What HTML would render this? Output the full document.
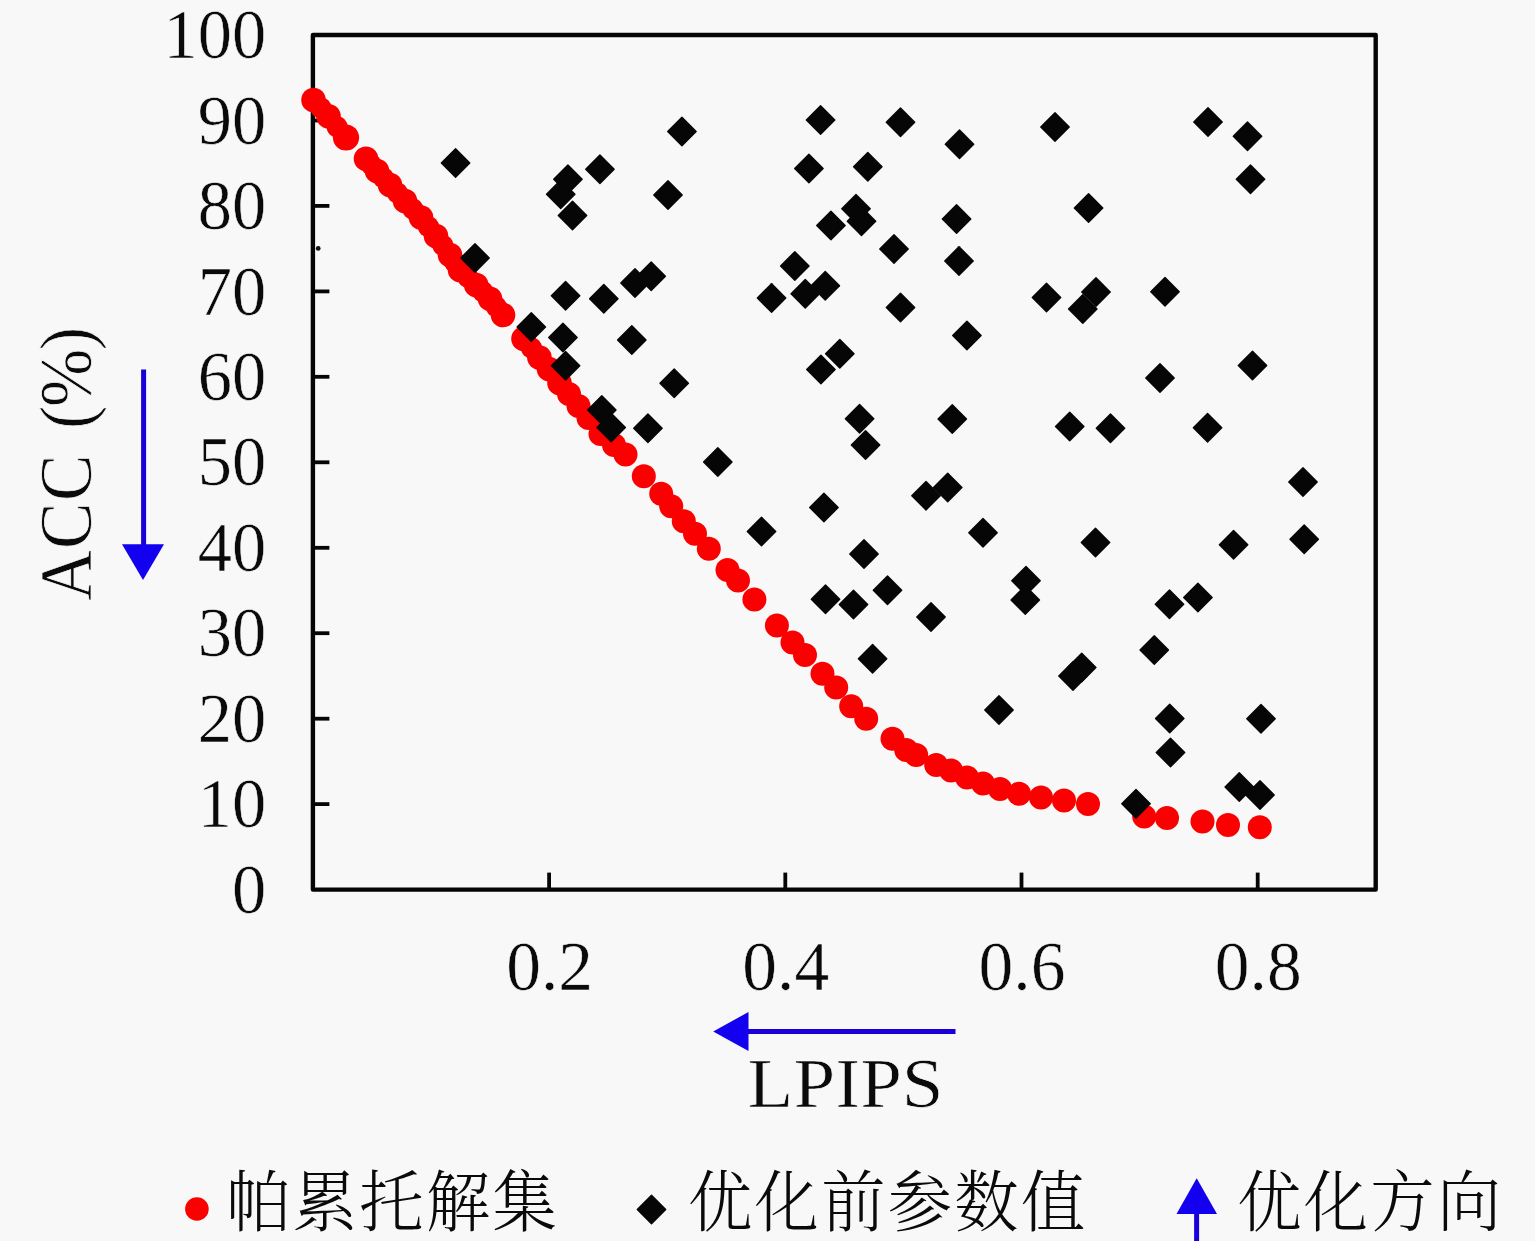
<!DOCTYPE html>
<html lang="zh-CN">
<head>
<meta charset="utf-8">
<title>帕累托解集 — ACC / LPIPS</title>
<style>
html,body{margin:0;padding:0;background:#f8f8f8;}
body{width:1535px;height:1241px;overflow:hidden;}
svg{display:block;}
.num{font-family:"Liberation Serif","Noto Serif CJK SC",serif;font-size:69.5px;fill:#0a0a0a;stroke:#f8f8f8;stroke-width:0.5px;stroke-linejoin:round;}
.lab{font-family:"Liberation Serif","Noto Serif CJK SC",serif;font-size:70px;fill:#0a0a0a;stroke:#f8f8f8;stroke-width:0.7px;stroke-linejoin:round;}
.cjk{font-family:"Liberation Serif","Noto Serif CJK SC",serif;font-size:66.6px;font-weight:300;letter-spacing:2.4px;fill:#0a0a0a;}
.ax{stroke:#050505;fill:none;}
.rd{fill:#fb0000;}
.dm{fill:#060606;}
.bl{fill:#1200ee;stroke:none;}
.bs{stroke:#1a00d8;fill:none;}
</style>
</head>
<body>
<svg width="1535" height="1241" viewBox="0 0 1535 1241">
<rect x="0" y="0" width="1535" height="1241" fill="#f8f8f8"/>
<g class="ax" stroke-width="4.4" stroke-linejoin="round">
<rect x="312.9" y="35.0" width="1062.8" height="854.6"/>
</g>
<g class="ax" stroke-width="3.8" stroke-linecap="butt">
<line x1="312.9" y1="804.1" x2="329.4" y2="804.1"/>
<line x1="312.9" y1="718.7" x2="329.4" y2="718.7"/>
<line x1="312.9" y1="633.2" x2="329.4" y2="633.2"/>
<line x1="312.9" y1="547.8" x2="329.4" y2="547.8"/>
<line x1="312.9" y1="462.3" x2="329.4" y2="462.3"/>
<line x1="312.9" y1="376.8" x2="329.4" y2="376.8"/>
<line x1="312.9" y1="291.4" x2="329.4" y2="291.4"/>
<line x1="312.9" y1="205.9" x2="329.4" y2="205.9"/>
<line x1="312.9" y1="120.5" x2="329.4" y2="120.5"/>
<line x1="549.1" y1="889.6" x2="549.1" y2="872.6"/>
<line x1="785.3" y1="889.6" x2="785.3" y2="872.6"/>
<line x1="1021.5" y1="889.6" x2="1021.5" y2="872.6"/>
<line x1="1257.7" y1="889.6" x2="1257.7" y2="872.6"/>
</g>
<circle cx="318.2" cy="248.4" r="2.4" fill="#111"/>
<g class="num" text-anchor="end" transform="translate(266.2 0) scale(0.985 1)">
<text x="0" y="912.8">0</text>
<text x="0" y="827.3">10</text>
<text x="0" y="741.9">20</text>
<text x="0" y="656.4">30</text>
<text x="0" y="571.0">40</text>
<text x="0" y="485.5">50</text>
<text x="0" y="400.0">60</text>
<text x="0" y="314.6">70</text>
<text x="0" y="229.1">80</text>
<text x="0" y="143.7">90</text>
<text x="0" y="58.2">100</text>
</g>
<g class="num" text-anchor="middle">
<text x="549.6" y="989.5">0.2</text>
<text x="785.8" y="989.5">0.4</text>
<text x="1022.0" y="989.5">0.6</text>
<text x="1258.2" y="989.5">0.8</text>
</g>
<text class="lab" x="747.6" y="1106.6" textLength="196" lengthAdjust="spacingAndGlyphs">LPIPS</text>
<text class="lab" transform="translate(90.8 598.6) rotate(-90) scale(1 1.05)" x="-2.2 49.7 97.7 146 169.7 191.7 248.3" y="0">ACC (%)</text>
<g class="bs" stroke-width="5">
<line x1="143.6" y1="369.5" x2="143.6" y2="546"/>
<line x1="746" y1="1031.5" x2="955.5" y2="1031.5"/>
<line x1="1196.6" y1="1212" x2="1196.6" y2="1241"/>
</g>
<g class="bl">
<polygon points="122,544.2 164,544.2 143,580"/>
<polygon points="748.5,1012 748.5,1051 713.2,1031.5"/>
<polygon points="1176.5,1214 1217,1214 1196.7,1178.3"/>
</g>
<g class="rd">
<circle cx="313.5" cy="100.0" r="12.3"/>
<circle cx="321.0" cy="108.1" r="10.6"/>
<circle cx="328.5" cy="116.2" r="12.3"/>
<circle cx="337.2" cy="126.9" r="10.6"/>
<circle cx="346.0" cy="137.5" r="13.1"/>
<circle cx="366.0" cy="158.8" r="12.3"/>
<circle cx="371.5" cy="164.9" r="10.6"/>
<circle cx="377.0" cy="171.0" r="12.3"/>
<circle cx="383.5" cy="178.0" r="10.6"/>
<circle cx="390.0" cy="185.0" r="12.3"/>
<circle cx="397.5" cy="193.0" r="10.6"/>
<circle cx="405.0" cy="201.0" r="12.3"/>
<circle cx="413.0" cy="209.2" r="10.6"/>
<circle cx="421.0" cy="217.5" r="12.3"/>
<circle cx="428.5" cy="226.8" r="10.6"/>
<circle cx="436.0" cy="236.0" r="12.3"/>
<circle cx="443.0" cy="245.5" r="10.6"/>
<circle cx="450.0" cy="255.0" r="12.3"/>
<circle cx="455.0" cy="262.5" r="10.6"/>
<circle cx="460.0" cy="270.0" r="12.3"/>
<circle cx="468.1" cy="277.5" r="10.6"/>
<circle cx="476.2" cy="285.0" r="12.3"/>
<circle cx="483.1" cy="291.9" r="10.6"/>
<circle cx="490.0" cy="298.8" r="12.3"/>
<circle cx="496.5" cy="306.9" r="10.6"/>
<circle cx="503.0" cy="315.0" r="12.3"/>
<circle cx="523.5" cy="338.7" r="12.3"/>
<circle cx="531.5" cy="348.1" r="10.6"/>
<circle cx="539.4" cy="357.5" r="12.3"/>
<circle cx="549.0" cy="369.0" r="12.3"/>
<circle cx="559.5" cy="383.0" r="12.3"/>
<circle cx="569.0" cy="394.0" r="12.0"/>
<circle cx="578.5" cy="406.0" r="12.0"/>
<circle cx="588.5" cy="418.0" r="12.0"/>
<circle cx="600.5" cy="434.0" r="12.0"/>
<circle cx="614.0" cy="445.0" r="12.0"/>
<circle cx="625.5" cy="454.5" r="12.0"/>
<circle cx="643.8" cy="476.2" r="12.0"/>
<circle cx="661.2" cy="493.8" r="12.0"/>
<circle cx="671.2" cy="506.2" r="12.0"/>
<circle cx="683.8" cy="521.2" r="12.0"/>
<circle cx="695.0" cy="533.8" r="12.0"/>
<circle cx="708.8" cy="548.8" r="12.0"/>
<circle cx="727.5" cy="570.0" r="12.0"/>
<circle cx="738.0" cy="580.6" r="12.0"/>
<circle cx="754.4" cy="599.4" r="12.0"/>
<circle cx="776.9" cy="625.6" r="12.0"/>
<circle cx="792.5" cy="642.5" r="12.0"/>
<circle cx="805.0" cy="655.0" r="12.0"/>
<circle cx="822.5" cy="673.8" r="12.0"/>
<circle cx="836.2" cy="687.5" r="12.0"/>
<circle cx="851.2" cy="706.2" r="12.0"/>
<circle cx="866.2" cy="718.8" r="12.0"/>
<circle cx="892.5" cy="738.8" r="12.0"/>
<circle cx="906.2" cy="750.0" r="12.0"/>
<circle cx="916.2" cy="755.0" r="12.0"/>
<circle cx="936.2" cy="765.0" r="12.0"/>
<circle cx="951.0" cy="770.5" r="12.0"/>
<circle cx="967.0" cy="777.5" r="12.0"/>
<circle cx="983.0" cy="783.5" r="12.0"/>
<circle cx="1000.0" cy="789.0" r="12.0"/>
<circle cx="1019.0" cy="793.8" r="12.0"/>
<circle cx="1041.0" cy="797.5" r="12.0"/>
<circle cx="1064.0" cy="800.5" r="12.0"/>
<circle cx="1088.0" cy="804.0" r="12.0"/>
<circle cx="1144.2" cy="816.5" r="12.0"/>
<circle cx="1167.0" cy="818.0" r="12.0"/>
<circle cx="1202.5" cy="821.5" r="12.0"/>
<circle cx="1228.0" cy="825.0" r="12.0"/>
<circle cx="1259.8" cy="827.3" r="12.0"/>
</g>
<g class="dm">
<rect x="444.8" y="152.2" width="21.5" height="21.5" rx="0.7" transform="rotate(45 455.5 163.0)"/>
<rect x="589.2" y="158.5" width="21.5" height="21.5" rx="0.7" transform="rotate(45 600.0 169.2)"/>
<rect x="557.2" y="168.5" width="21.5" height="21.5" rx="0.7" transform="rotate(45 568.0 179.2)"/>
<rect x="550.0" y="183.5" width="21.5" height="21.5" rx="0.7" transform="rotate(45 560.8 194.2)"/>
<rect x="561.8" y="204.8" width="21.5" height="21.5" rx="0.7" transform="rotate(45 572.5 215.5)"/>
<rect x="657.2" y="184.2" width="21.5" height="21.5" rx="0.7" transform="rotate(45 668.0 195.0)"/>
<rect x="671.2" y="120.8" width="21.5" height="21.5" rx="0.7" transform="rotate(45 682.0 131.5)"/>
<rect x="464.2" y="247.2" width="21.5" height="21.5" rx="0.7" transform="rotate(45 475.0 258.0)"/>
<rect x="554.8" y="285.0" width="21.5" height="21.5" rx="0.7" transform="rotate(45 565.5 295.8)"/>
<rect x="593.0" y="288.0" width="21.5" height="21.5" rx="0.7" transform="rotate(45 603.8 298.8)"/>
<rect x="624.2" y="272.2" width="21.5" height="21.5" rx="0.7" transform="rotate(45 635.0 283.0)"/>
<rect x="640.5" y="265.5" width="21.5" height="21.5" rx="0.7" transform="rotate(45 651.2 276.2)"/>
<rect x="520.5" y="316.2" width="21.5" height="21.5" rx="0.7" transform="rotate(45 531.3 327.0)"/>
<rect x="809.8" y="109.2" width="21.5" height="21.5" rx="0.7" transform="rotate(45 820.5 120.0)"/>
<rect x="889.8" y="111.5" width="21.5" height="21.5" rx="0.7" transform="rotate(45 900.5 122.2)"/>
<rect x="948.8" y="133.5" width="21.5" height="21.5" rx="0.7" transform="rotate(45 959.5 144.2)"/>
<rect x="1044.2" y="116.2" width="21.5" height="21.5" rx="0.7" transform="rotate(45 1055.0 127.0)"/>
<rect x="798.2" y="157.8" width="21.5" height="21.5" rx="0.7" transform="rotate(45 809.0 168.5)"/>
<rect x="857.0" y="156.0" width="21.5" height="21.5" rx="0.7" transform="rotate(45 867.8 166.8)"/>
<rect x="845.2" y="198.0" width="21.5" height="21.5" rx="0.7" transform="rotate(45 856.0 208.8)"/>
<rect x="850.8" y="210.5" width="21.5" height="21.5" rx="0.7" transform="rotate(45 861.5 221.2)"/>
<rect x="820.2" y="214.8" width="21.5" height="21.5" rx="0.7" transform="rotate(45 831.0 225.5)"/>
<rect x="945.8" y="208.2" width="21.5" height="21.5" rx="0.7" transform="rotate(45 956.5 219.0)"/>
<rect x="883.2" y="238.2" width="21.5" height="21.5" rx="0.7" transform="rotate(45 894.0 249.0)"/>
<rect x="948.2" y="250.2" width="21.5" height="21.5" rx="0.7" transform="rotate(45 959.0 261.0)"/>
<rect x="784.0" y="255.2" width="21.5" height="21.5" rx="0.7" transform="rotate(45 794.8 266.0)"/>
<rect x="814.5" y="275.0" width="21.5" height="21.5" rx="0.7" transform="rotate(45 825.2 285.8)"/>
<rect x="794.5" y="283.0" width="21.5" height="21.5" rx="0.7" transform="rotate(45 805.2 293.8)"/>
<rect x="760.8" y="287.2" width="21.5" height="21.5" rx="0.7" transform="rotate(45 771.5 298.0)"/>
<rect x="889.8" y="296.8" width="21.5" height="21.5" rx="0.7" transform="rotate(45 900.5 307.5)"/>
<rect x="1035.8" y="286.8" width="21.5" height="21.5" rx="0.7" transform="rotate(45 1046.5 297.5)"/>
<rect x="1197.2" y="111.2" width="21.5" height="21.5" rx="0.7" transform="rotate(45 1208.0 122.0)"/>
<rect x="1236.8" y="125.5" width="21.5" height="21.5" rx="0.7" transform="rotate(45 1247.5 136.2)"/>
<rect x="1239.8" y="168.5" width="21.5" height="21.5" rx="0.7" transform="rotate(45 1250.5 179.2)"/>
<rect x="1077.8" y="197.2" width="21.5" height="21.5" rx="0.7" transform="rotate(45 1088.5 208.0)"/>
<rect x="1085.2" y="281.2" width="21.5" height="21.5" rx="0.7" transform="rotate(45 1096.0 292.0)"/>
<rect x="1072.0" y="298.2" width="21.5" height="21.5" rx="0.7" transform="rotate(45 1082.7 309.0)"/>
<rect x="1154.2" y="281.0" width="21.5" height="21.5" rx="0.7" transform="rotate(45 1165.0 291.8)"/>
<rect x="552.2" y="326.8" width="21.5" height="21.5" rx="0.7" transform="rotate(45 563.0 337.5)"/>
<rect x="621.0" y="329.2" width="21.5" height="21.5" rx="0.7" transform="rotate(45 631.8 340.0)"/>
<rect x="554.8" y="355.0" width="21.5" height="21.5" rx="0.7" transform="rotate(45 565.5 365.8)"/>
<rect x="663.5" y="372.5" width="21.5" height="21.5" rx="0.7" transform="rotate(45 674.2 383.2)"/>
<rect x="591.0" y="399.2" width="21.5" height="21.5" rx="0.7" transform="rotate(45 601.8 410.0)"/>
<rect x="600.5" y="416.8" width="21.5" height="21.5" rx="0.7" transform="rotate(45 611.2 427.5)"/>
<rect x="637.2" y="417.5" width="21.5" height="21.5" rx="0.7" transform="rotate(45 648.0 428.2)"/>
<rect x="956.2" y="324.8" width="21.5" height="21.5" rx="0.7" transform="rotate(45 967.0 335.5)"/>
<rect x="829.0" y="343.0" width="21.5" height="21.5" rx="0.7" transform="rotate(45 839.8 353.8)"/>
<rect x="810.2" y="358.8" width="21.5" height="21.5" rx="0.7" transform="rotate(45 821.0 369.5)"/>
<rect x="848.8" y="408.0" width="21.5" height="21.5" rx="0.7" transform="rotate(45 859.5 418.8)"/>
<rect x="941.5" y="408.2" width="21.5" height="21.5" rx="0.7" transform="rotate(45 952.2 419.0)"/>
<rect x="854.8" y="434.2" width="21.5" height="21.5" rx="0.7" transform="rotate(45 865.5 445.0)"/>
<rect x="707.0" y="451.2" width="21.5" height="21.5" rx="0.7" transform="rotate(45 717.8 462.0)"/>
<rect x="937.0" y="476.8" width="21.5" height="21.5" rx="0.7" transform="rotate(45 947.8 487.5)"/>
<rect x="915.2" y="485.0" width="21.5" height="21.5" rx="0.7" transform="rotate(45 926.0 495.8)"/>
<rect x="813.2" y="496.8" width="21.5" height="21.5" rx="0.7" transform="rotate(45 824.0 507.5)"/>
<rect x="750.8" y="520.8" width="21.5" height="21.5" rx="0.7" transform="rotate(45 761.5 531.5)"/>
<rect x="972.2" y="522.0" width="21.5" height="21.5" rx="0.7" transform="rotate(45 983.0 532.8)"/>
<rect x="853.2" y="543.2" width="21.5" height="21.5" rx="0.7" transform="rotate(45 864.0 554.0)"/>
<rect x="876.8" y="579.5" width="21.5" height="21.5" rx="0.7" transform="rotate(45 887.5 590.2)"/>
<rect x="814.8" y="588.5" width="21.5" height="21.5" rx="0.7" transform="rotate(45 825.5 599.2)"/>
<rect x="842.8" y="593.8" width="21.5" height="21.5" rx="0.7" transform="rotate(45 853.5 604.5)"/>
<rect x="1015.2" y="570.0" width="21.5" height="21.5" rx="0.7" transform="rotate(45 1026.0 580.8)"/>
<rect x="1014.5" y="589.2" width="21.5" height="21.5" rx="0.7" transform="rotate(45 1025.2 600.0)"/>
<rect x="920.2" y="606.2" width="21.5" height="21.5" rx="0.7" transform="rotate(45 931.0 617.0)"/>
<rect x="1241.8" y="354.8" width="21.5" height="21.5" rx="0.7" transform="rotate(45 1252.5 365.5)"/>
<rect x="1149.2" y="367.2" width="21.5" height="21.5" rx="0.7" transform="rotate(45 1160.0 378.0)"/>
<rect x="1059.0" y="415.8" width="21.5" height="21.5" rx="0.7" transform="rotate(45 1069.8 426.5)"/>
<rect x="1099.8" y="417.5" width="21.5" height="21.5" rx="0.7" transform="rotate(45 1110.5 428.2)"/>
<rect x="1196.8" y="417.0" width="21.5" height="21.5" rx="0.7" transform="rotate(45 1207.5 427.8)"/>
<rect x="1292.2" y="471.2" width="21.5" height="21.5" rx="0.7" transform="rotate(45 1303.0 482.0)"/>
<rect x="1084.8" y="531.8" width="21.5" height="21.5" rx="0.7" transform="rotate(45 1095.5 542.5)"/>
<rect x="1222.8" y="534.0" width="21.5" height="21.5" rx="0.7" transform="rotate(45 1233.5 544.8)"/>
<rect x="1293.5" y="528.5" width="21.5" height="21.5" rx="0.7" transform="rotate(45 1304.2 539.2)"/>
<rect x="1187.2" y="586.8" width="21.5" height="21.5" rx="0.7" transform="rotate(45 1198.0 597.5)"/>
<rect x="1158.8" y="593.5" width="21.5" height="21.5" rx="0.7" transform="rotate(45 1169.5 604.2)"/>
<rect x="861.8" y="648.0" width="21.5" height="21.5" rx="0.7" transform="rotate(45 872.5 658.8)"/>
<rect x="988.2" y="699.2" width="21.5" height="21.5" rx="0.7" transform="rotate(45 999.0 710.0)"/>
<rect x="1143.5" y="639.2" width="21.5" height="21.5" rx="0.7" transform="rotate(45 1154.2 650.0)"/>
<rect x="1071.0" y="656.8" width="21.5" height="21.5" rx="0.7" transform="rotate(45 1081.8 667.5)"/>
<rect x="1062.2" y="665.2" width="21.5" height="21.5" rx="0.7" transform="rotate(45 1073.0 676.0)"/>
<rect x="1159.0" y="707.8" width="21.5" height="21.5" rx="0.7" transform="rotate(45 1169.8 718.5)"/>
<rect x="1250.2" y="708.0" width="21.5" height="21.5" rx="0.7" transform="rotate(45 1261.0 718.8)"/>
<rect x="1159.8" y="741.8" width="21.5" height="21.5" rx="0.7" transform="rotate(45 1170.5 752.5)"/>
<rect x="1228.5" y="776.2" width="21.5" height="21.5" rx="0.7" transform="rotate(45 1239.2 787.0)"/>
<rect x="1249.2" y="784.2" width="21.5" height="21.5" rx="0.7" transform="rotate(45 1260.0 795.0)"/>
<rect x="1125.2" y="793.0" width="21.5" height="21.5" rx="0.7" transform="rotate(45 1136.0 803.8)"/>
</g>
<circle class="rd" cx="196.9" cy="1209" r="11.8"/>
<text class="cjk" transform="translate(226.2 1225.5) scale(0.965 1)" x="0" y="0">帕累托解集</text>
<rect class="dm" x="640.8" y="1198.7" width="21.5" height="21.5" rx="0.7" transform="rotate(45 651.5 1209.4)"/>
<text class="cjk" transform="translate(688.0 1225.5) scale(0.965 1)" x="0" y="0">优化前参数值</text>
<text class="cjk" transform="translate(1237.2 1225.5) scale(0.965 1)" x="0" y="0">优化方向</text>
</svg>
</body>
</html>
